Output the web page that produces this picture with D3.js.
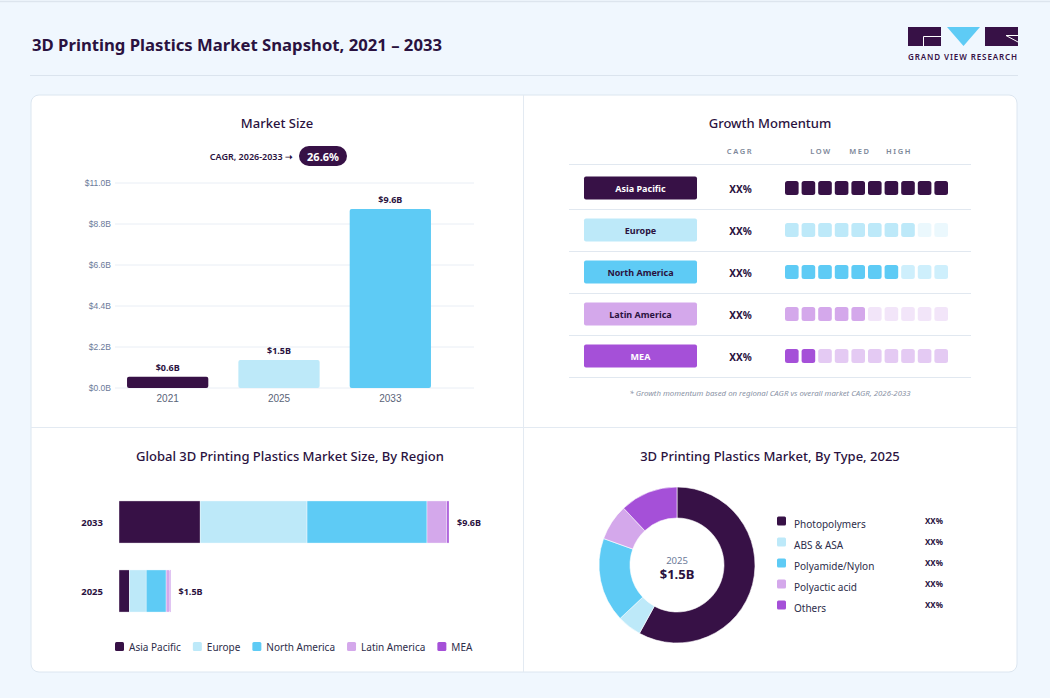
<!DOCTYPE html>
<html>
<head>
<meta charset="utf-8">
<script src="https://cdn.jsdelivr.net/npm/d3@7"></script>
<style>
  html, body { margin: 0; padding: 0; background: #f0f7fe; }
  svg { display: block; font-family: "Noto Sans", sans-serif; }
</style>
</head>
<body>
<svg id="chart" width="1050" height="698"></svg>
<script>
/* global d3 */

// ---- data ----
const regions= ['Asia Pacific', 'Europe', 'North America', 'Latin America', 'MEA'];
const regionColors= ['#371146', '#bde9f9', '#5ecbf5', '#d4a8eb', '#a550d8'];

const sizeYears= ['2021', '2025', '2033'];
const sizeValues= [0.6, 1.5, 9.6];
const sizeTicks= [0, 2.2, 4.4, 6.6, 8.8, 11.0];
const cagrValue= '26.6%';

const momentumFilled= [10, 8, 7, 5, 2];
const momentumCagr= ['XX%', 'XX%', 'XX%', 'XX%', 'XX%'];
const momentumLevels= ['LOW', 'MED', 'HIGH'];

const regionYears= ['2033', '2025'];
const region2033= [2.36, 3.11, 3.49, 0.58, 0.06];
const region2025= [0.30, 0.49, 0.58, 0.10, 0.03];
const regionTotals= [9.6, 1.5];

const types= ['Photopolymers', 'ABS & ASA', 'Polyamide/Nylon', 'Polyactic acid', 'Others'];
const typeShares= [58, 5, 17.5, 7.5, 12];
const typeLabels= ['XX%', 'XX%', 'XX%', 'XX%', 'XX%'];
const typeYear= '2025';
const typeTotal= 1.5;

const DARK= '#2a1240';
const fmtB= v => `$${v.toFixed(1)}B`;

const svg= d3.select('#chart');

// ---- page frame ----
svg.append('rect').attr('width', 1050).attr('height', 698).attr('fill', '#f0f7fe');
svg.append('line').attr('x1', 0).attr('x2', 1050).attr('y1', 1.5).attr('y2', 1.5)
  .attr('stroke', '#dde5ee').attr('stroke-width', 1.5);

svg.append('text')
  .attr('x', 32).attr('y', 51)
  .attr('font-size', 16.7).attr('font-weight', 700)
  .attr('fill', DARK)
  .text('3D Printing Plastics Market Snapshot, 2021 – 2033');

svg.append('line').attr('x1', 30).attr('x2', 1018).attr('y1', 75.5).attr('y2', 75.5)
  .attr('stroke', '#dbe4ee');

// logo
const logo= svg.append('g');
logo.append('rect').attr('x', 908).attr('y', 27).attr('width', 33).attr('height', 19).attr('fill', '#371146');
logo.append('path').attr('d', 'M941,36.5 H923.5 V46').attr('fill', 'none').attr('stroke', '#fff').attr('stroke-width', 1);
logo.append('path').attr('d', 'M947,27 H980 L963.5,46 Z').attr('fill', '#5ecbf5');
logo.append('rect').attr('x', 985).attr('y', 27).attr('width', 33).attr('height', 19).attr('fill', '#371146');
logo.append('path').attr('d', 'M1018,35.5 H1006 L1018,42').attr('fill', 'none').attr('stroke', '#fff').attr('stroke-width', 1);
logo.append('text')
  .attr('x', 963).attr('y', 60).attr('text-anchor', 'middle')
  .attr('font-size', 8).attr('font-weight', 600).attr('letter-spacing', 0.9)
  .attr('fill', '#371146')
  .text('GRAND VIEW RESEARCH');

// card
svg.append('rect')
  .attr('x', 31).attr('y', 95).attr('width', 986).attr('height', 577).attr('rx', 8)
  .attr('fill', '#fff').attr('stroke', '#dce6f0');
svg.append('line').attr('x1', 523.5).attr('x2', 523.5).attr('y1', 95).attr('y2', 672).attr('stroke', '#e3eaf2');
svg.append('line').attr('x1', 31).attr('x2', 1017).attr('y1', 427.5).attr('y2', 427.5).attr('stroke', '#e3eaf2');

function panelTitle(x, y, txt) {
  svg.append('text')
    .attr('x', x).attr('y', y).attr('text-anchor', 'middle')
    .attr('font-size', 13).attr('font-weight', 500)
    .attr('fill', DARK)
    .text(txt);
}

// ---- market size ----
panelTitle(277, 128, 'Market Size');

const cagrG= svg.append('g');
cagrG.append('text')
  .attr('x', 293).attr('y', 160).attr('text-anchor', 'end')
  .attr('font-size', 9).attr('font-weight', 600).attr('fill', DARK)
  .text('CAGR, 2026-2033 ➝');
cagrG.append('rect')
  .attr('x', 299).attr('y', 146).attr('width', 48).attr('height', 20).attr('rx', 10)
  .attr('fill', '#371146');
cagrG.append('text')
  .attr('x', 323).attr('y', 160.5).attr('text-anchor', 'middle')
  .attr('font-size', 11).attr('font-weight', 700).attr('fill', '#fff')
  .text(cagrValue);

const ySz= d3.scaleLinear().domain([0, 11]).range([388, 183]);
const xSz= d3.scaleBand().domain(sizeYears).range([112, 446]).paddingInner(0.27).paddingOuter(0.135);

svg.append('g').selectAll('line')
  .data(sizeTicks).join('line')
  .attr('x1', 115).attr('x2', 474)
  .attr('y1', d => ySz(d)).attr('y2', d => ySz(d))
  .attr('stroke', '#e9eef5');

const yAx= svg.append('g')
  .attr('transform', 'translate(111,0)')
  .call(d3.axisLeft(ySz).tickValues(sizeTicks).tickSize(0).tickPadding(0).tickFormat(fmtB));
yAx.select('.domain').remove();
yAx.selectAll('text').attr('font-size', 8.5).attr('fill', '#6b7a99').attr('font-family', null);

const xAx= svg.append('g')
  .attr('transform', 'translate(0,388)')
  .call(d3.axisBottom(xSz).tickSize(0).tickPadding(7));
xAx.select('.domain').remove();
xAx.selectAll('text').attr('font-size', 10).attr('fill', '#5a6478').attr('font-family', null);

svg.append('g').selectAll('rect')
  .data(sizeValues).join('rect')
  .attr('x', (d, i) => xSz(sizeYears[i]))
  .attr('width', xSz.bandwidth())
  .attr('y', d => ySz(d))
  .attr('height', d => ySz(0)-ySz(d))
  .attr('rx', 2)
  .attr('fill', (d, i) => regionColors[i]);

svg.append('g').selectAll('text')
  .data(sizeValues).join('text')
  .attr('x', (d, i) => xSz(sizeYears[i])+xSz.bandwidth()/2)
  .attr('y', d => ySz(d)-6)
  .attr('text-anchor', 'middle')
  .attr('font-size', 9).attr('font-weight', 700).attr('fill', DARK)
  .text(fmtB);

// ---- growth momentum ----
panelTitle(770, 128, 'Growth Momentum');

const hdr= svg.append('g').attr('font-size', 7.5).attr('font-weight', 600)
  .attr('letter-spacing', 1.6).attr('fill', '#7d8799').attr('text-anchor', 'middle');
hdr.append('text').attr('x', 740).attr('y', 154).text('CAGR');
const levelX= d3.scalePoint().domain(momentumLevels).range([821, 899]);
hdr.selectAll('text.lvl')
  .data(momentumLevels).join('text').attr('class', 'lvl')
  .attr('x', d => levelX(d)).attr('y', 154)
  .text(d => d);

const yRow= d3.scaleBand().domain(regions).range([167, 377]);
const xSq= d3.scaleBand().domain(d3.range(10)).range([785, 948]).paddingInner(0.18);

svg.append('line').attr('x1', 569).attr('x2', 971).attr('y1', 164.5).attr('y2', 164.5).attr('stroke', '#e1e8f0');

const rows= svg.append('g').selectAll('g')
  .data(regions).join('g')
  .attr('transform', d => `translate(0,${yRow(d)+yRow.bandwidth()/2})`);

rows.append('line')
  .attr('x1', 569).attr('x2', 971)
  .attr('y1', yRow.bandwidth()/2+0.5).attr('y2', yRow.bandwidth()/2+0.5)
  .attr('stroke', '#e1e8f0');

rows.append('rect')
  .attr('x', 584).attr('y', -11.5).attr('width', 113).attr('height', 23).attr('rx', 2)
  .attr('fill', (d, i) => regionColors[i]);

rows.append('text')
  .attr('x', 640.5).attr('y', 3.5).attr('text-anchor', 'middle')
  .attr('font-size', 9).attr('font-weight', 700)
  .attr('fill', (d, i) => (i===0 || i===4) ? '#fff' : DARK)
  .text(d => d);

rows.append('text')
  .attr('x', 740.5).attr('y', 4.5).attr('text-anchor', 'middle')
  .attr('font-size', 10).attr('font-weight', 700).attr('fill', DARK)
  .text((d, i) => momentumCagr[i]);

rows.each(function(d, i) {
  d3.select(this).selectAll('rect.sq')
    .data(d3.range(10)).join('rect').attr('class', 'sq')
    .attr('x', k => xSq(k)).attr('y', -7)
    .attr('width', xSq.bandwidth()).attr('height', 14).attr('rx', 2.5)
    .attr('fill', regionColors[i])
    .attr('fill-opacity', k => k<momentumFilled[i] ? 1 : 0.3);
});

svg.append('text')
  .attr('x', 770).attr('y', 396).attr('text-anchor', 'middle')
  .attr('font-size', 7.8).attr('font-style', 'italic').attr('fill', '#8a93a6')
  .text('* Growth momentum based on regional CAGR vs overall market CAGR, 2026-2033');

// ---- by region (stacked) ----
panelTitle(290, 461, 'Global 3D Printing Plastics Market Size, By Region');

const stackRows= regionYears.map((yr, j) => {
  const vals= j===0 ? region2033 : region2025;
  const row= { year: yr };
  regions.forEach((r, i) => { row[r]= vals[i]; });
  return row;
});
const series= d3.stack().keys(regions)(stackRows);

const xReg= d3.scaleLinear().domain([0, 9.6]).range([119, 449]);
const yReg= d3.scaleBand().domain(regionYears).range([487.5, 625.5]).paddingInner(0.39).paddingOuter(0.195);

svg.append('g').selectAll('g')
  .data(series).join('g')
  .attr('fill', (d, i) => regionColors[i])
  .selectAll('rect')
  .data(d => d).join('rect')
  .attr('x', d => xReg(d[0]))
  .attr('width', d => xReg(d[1])-xReg(d[0]))
  .attr('y', d => yReg(d.data.year))
  .attr('height', yReg.bandwidth())
  .attr('stroke', '#fff').attr('stroke-width', 0.4);

svg.append('g').selectAll('text')
  .data(regionYears).join('text')
  .attr('x', 103).attr('y', d => yReg(d)+yReg.bandwidth()/2+3.5)
  .attr('text-anchor', 'end')
  .attr('font-size', 9.5).attr('font-weight', 700).attr('fill', DARK)
  .text(d => d);

svg.append('g').selectAll('text')
  .data(regionTotals).join('text')
  .attr('x', d => xReg(d)+8)
  .attr('y', (d, i) => yReg(regionYears[i])+yReg.bandwidth()/2+3.5)
  .attr('font-size', 9).attr('font-weight', 700).attr('fill', DARK)
  .text(fmtB);

const lg= svg.append('g');
let cx= 115;
regions.forEach((r, i) => {
  lg.append('rect').attr('x', cx).attr('y', 642).attr('width', 9).attr('height', 9).attr('rx', 1.5)
    .attr('fill', regionColors[i]);
  const t= lg.append('text').attr('x', cx+14).attr('y', 650.5)
    .attr('font-size', 10).attr('fill', '#2d2d4a').text(r);
  cx+= 14+t.node().getComputedTextLength()+12;
});

// ---- by type (donut) ----
panelTitle(770, 461, '3D Printing Plastics Market, By Type, 2025');

const pie= d3.pie().sort(null).value(d => d);
const arc= d3.arc().innerRadius(47).outerRadius(78);
const dg= svg.append('g').attr('transform', 'translate(677,565)');
dg.selectAll('path')
  .data(pie(typeShares)).join('path')
  .attr('d', arc)
  .attr('fill', (d, i) => regionColors[i])
  .attr('stroke', '#fff').attr('stroke-width', 0.6);
dg.append('text').attr('y', -1).attr('text-anchor', 'middle')
  .attr('font-size', 9.5).attr('fill', '#6b7a99').text(typeYear);
dg.append('text').attr('y', 14).attr('text-anchor', 'middle')
  .attr('font-size', 13).attr('font-weight', 700).attr('fill', DARK).text(fmtB(typeTotal));

const yLeg= d3.scalePoint().domain(types).range([521, 605]);
const tl= svg.append('g').selectAll('g')
  .data(types).join('g')
  .attr('transform', d => `translate(0,${yLeg(d)})`);
tl.append('rect').attr('x', 777).attr('y', -4.5).attr('width', 9).attr('height', 9).attr('rx', 1.5)
  .attr('fill', (d, i) => regionColors[i]);
tl.append('text').attr('x', 794).attr('y', 6.5)
  .attr('font-size', 10).attr('fill', '#2d2d4a').text(d => d);
tl.append('text').attr('x', 925).attr('y', 3)
  .attr('font-size', 8).attr('font-weight', 700).attr('fill', DARK)
  .text((d, i) => typeLabels[i]);
</script>
</body>
</html>
